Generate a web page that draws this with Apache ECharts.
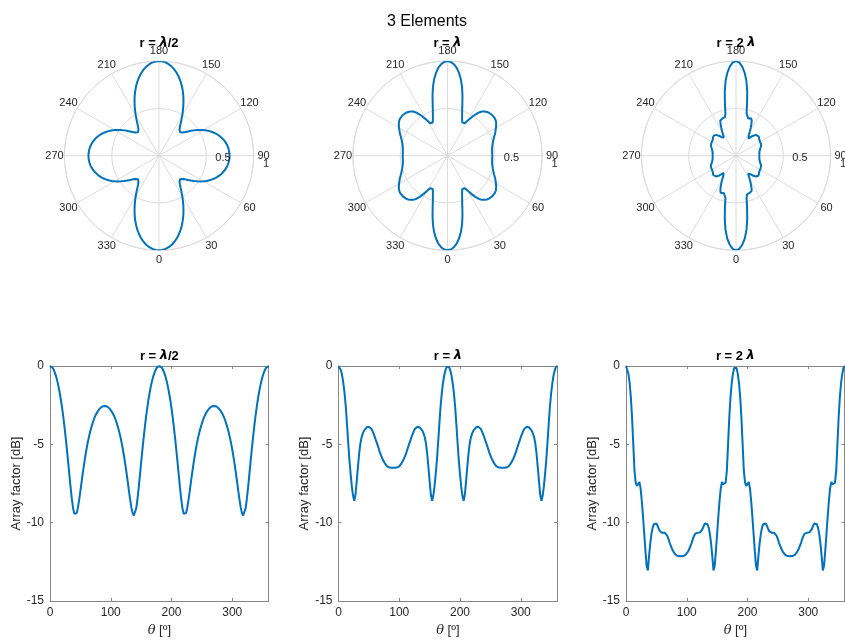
<!DOCTYPE html>
<html>
<head>
<meta charset="utf-8">
<script src="https://cdn.jsdelivr.net/npm/echarts@6/dist/echarts.min.js"></script>
<style>
html,body{margin:0;padding:0;background:#fff;}
#chart{width:845px;height:642px;}
</style>
</head>
<body>
<div id="chart"></div>
<script>
// ---------- data ----------
const THETA = [
  0,2,4,6,8,10,12,14,16,18,20,22,24,26,28,30,32,34,36,38,40,42,44,46,48,50,52,54,56,58,60,62,64,66,68,70,72,74,76,78,80,82,84,86,88,90,
  92,94,96,98,100,102,104,106,108,110,112,114,116,118,120,122,124,126,128,130,132,134,136,138,140,142,144,146,148,150,152,154,156,158,160,162,164,166,168,170,172,174,176,178,180,
  182,184,186,188,190,192,194,196,198,200,202,204,206,208,210,212,214,216,218,220,222,224,226,228,230,232,234,236,238,240,242,244,246,248,250,252,254,256,258,260,262,264,266,268,270,
  272,274,276,278,280,282,284,286,288,290,292,294,296,298,300,302,304,306,308,310,312,314,316,318,320,322,324,326,328,330,332,334,336,338,340,342,344,346,348,350,352,354,356,358,360
];

// Array factor [dB], r = λ/2
const AF_R_HALF = [
  0,-0.03,-0.10,-0.24,-0.42,-0.66,-0.95,-1.30,-1.71,-2.17,-2.70,-3.28,-3.93,-4.63,-5.38,-6.17,-6.98,-7.78,-8.49,-9.07,-9.43,-9.54,-9.39,-9.04,-8.55,-7.99,-7.40,-6.83,-6.29,-5.79,-5.33,-4.91,-4.54,-4.21,-3.92,-3.66,-3.43,-3.23,-3.07,-2.93,-2.81,-2.71,-2.64,-2.59,-2.56,-2.55,
  -2.56,-2.59,-2.64,-2.71,-2.81,-2.93,-3.07,-3.23,-3.43,-3.66,-3.92,-4.21,-4.54,-4.91,-5.33,-5.79,-6.29,-6.83,-7.40,-7.99,-8.55,-9.04,-9.39,-9.54,-9.43,-9.07,-8.49,-7.78,-6.98,-6.17,-5.38,-4.63,-3.93,-3.28,-2.70,-2.17,-1.71,-1.30,-0.95,-0.66,-0.42,-0.24,-0.10,-0.03,0,
  -0.03,-0.10,-0.24,-0.42,-0.66,-0.95,-1.30,-1.71,-2.17,-2.70,-3.28,-3.93,-4.63,-5.38,-6.17,-6.98,-7.78,-8.49,-9.07,-9.43,-9.54,-9.39,-9.04,-8.55,-7.99,-7.40,-6.83,-6.29,-5.79,-5.33,-4.91,-4.54,-4.21,-3.92,-3.66,-3.43,-3.23,-3.07,-2.93,-2.81,-2.71,-2.64,-2.59,-2.56,-2.55,
  -2.56,-2.59,-2.64,-2.71,-2.81,-2.93,-3.07,-3.23,-3.43,-3.66,-3.92,-4.21,-4.54,-4.91,-5.33,-5.79,-6.29,-6.83,-7.40,-7.99,-8.55,-9.04,-9.39,-9.54,-9.43,-9.07,-8.49,-7.78,-6.98,-6.17,-5.38,-4.63,-3.93,-3.28,-2.70,-2.17,-1.71,-1.30,-0.95,-0.66,-0.42,-0.24,-0.10,-0.03,0
];

// Array factor [dB], r = λ
const AF_R_ONE = [
  0,-0.07,-0.27,-0.60,-1.10,-1.75,-2.60,-3.70,-4.90,-6.00,-6.90,-7.70,-8.30,-8.60,-8.20,-7.35,-6.45,-5.60,-4.95,-4.55,-4.30,-4.12,-4.00,-3.93,-3.89,-3.88,-3.92,-4.01,-4.15,-4.35,-4.55,-4.80,-5.00,-5.25,-5.50,-5.70,-5.90,-6.05,-6.20,-6.30,-6.40,-6.45,-6.48,-6.50,-6.50,-6.50,
  -6.50,-6.50,-6.48,-6.45,-6.40,-6.30,-6.20,-6.05,-5.90,-5.70,-5.50,-5.25,-5.00,-4.80,-4.55,-4.35,-4.15,-4.01,-3.92,-3.88,-3.89,-3.93,-4.00,-4.12,-4.30,-4.55,-4.95,-5.60,-6.45,-7.35,-8.20,-8.60,-8.30,-7.70,-6.90,-6.00,-4.90,-3.70,-2.60,-1.75,-1.10,-0.60,-0.27,-0.07,0,
  -0.07,-0.27,-0.60,-1.10,-1.75,-2.60,-3.70,-4.90,-6.00,-6.90,-7.70,-8.30,-8.60,-8.20,-7.35,-6.45,-5.60,-4.95,-4.55,-4.30,-4.12,-4.00,-3.93,-3.89,-3.88,-3.92,-4.01,-4.15,-4.35,-4.55,-4.80,-5.00,-5.25,-5.50,-5.70,-5.90,-6.05,-6.20,-6.30,-6.40,-6.45,-6.48,-6.50,-6.50,-6.50,
  -6.50,-6.50,-6.48,-6.45,-6.40,-6.30,-6.20,-6.05,-5.90,-5.70,-5.50,-5.25,-5.00,-4.80,-4.55,-4.35,-4.15,-4.01,-3.92,-3.88,-3.89,-3.93,-4.00,-4.12,-4.30,-4.55,-4.95,-5.60,-6.45,-7.35,-8.20,-8.60,-8.30,-7.70,-6.90,-6.00,-4.90,-3.70,-2.60,-1.75,-1.10,-0.60,-0.27,-0.07,0
];

// Array factor [dB], r = 2λ
const AF_R_TWO = [
  0,-0.12,-0.50,-1.10,-2.00,-3.30,-5.00,-6.70,-7.45,-7.65,-7.55,-7.40,-7.80,-8.60,-9.60,-10.70,-11.80,-12.75,-13.05,-12.10,-11.30,-10.70,-10.30,-10.10,-10.00,-10.05,-10.20,-10.40,-10.55,-10.62,-10.65,-10.65,-10.65,-10.70,-10.85,-11.05,-11.30,-11.50,-11.70,-11.85,-11.97,-12.05,-12.10,-12.13,-12.15,-12.15,
  -12.15,-12.13,-12.10,-12.05,-11.97,-11.85,-11.70,-11.50,-11.30,-11.05,-10.85,-10.70,-10.65,-10.65,-10.65,-10.62,-10.55,-10.40,-10.20,-10.05,-10.00,-10.10,-10.30,-10.70,-11.30,-12.10,-13.05,-12.75,-11.80,-10.70,-9.60,-8.60,-7.80,-7.40,-7.55,-7.65,-7.45,-6.70,-5.00,-3.30,-2.00,-1.10,-0.50,-0.12,0,
  -0.12,-0.50,-1.10,-2.00,-3.30,-5.00,-6.70,-7.45,-7.65,-7.55,-7.40,-7.80,-8.60,-9.60,-10.70,-11.80,-12.75,-13.05,-12.10,-11.30,-10.70,-10.30,-10.10,-10.00,-10.05,-10.20,-10.40,-10.55,-10.62,-10.65,-10.65,-10.65,-10.70,-10.85,-11.05,-11.30,-11.50,-11.70,-11.85,-11.97,-12.05,-12.10,-12.13,-12.15,-12.15,
  -12.15,-12.13,-12.10,-12.05,-11.97,-11.85,-11.70,-11.50,-11.30,-11.05,-10.85,-10.70,-10.65,-10.65,-10.65,-10.62,-10.55,-10.40,-10.20,-10.05,-10.00,-10.10,-10.30,-10.70,-11.30,-12.10,-13.05,-12.75,-11.80,-10.70,-9.60,-8.60,-7.80,-7.40,-7.55,-7.65,-7.45,-6.70,-5.00,-3.30,-2.00,-1.10,-0.50,-0.12,0
];

const PANEL_TITLES = ['{b|r = }{l|λ}{b|/2}', '{b|r = }{l|λ}', '{b|r = 2 }{l|λ}'];
const MAIN_TITLE = '3 Elements';
const ANGLE_TICKS = [0,30,60,90,120,150,180,210,240,270,300,330];
const R_TICK_LABELS = ['0.5', '1'];
const X_TICKS = [0,100,200,300];
const Y_TICKS = [-15,-10,-5,0];
const Y_NAME = 'Array factor [dB]';
const X_NAME = '{t|θ}{n| [º]}';

// ---------- layout / style ----------
const SANS = '"Liberation Sans", Arial, Helvetica, sans-serif';
const SERIF = '"DejaVu Serif", "Liberation Serif", serif';
const BLUE = '#0072BD';
const TXT = '#262626';
const AXC = '#868686';
const GRIDC = '#dcdcdc';

const POLAR_CX = [159, 447.5, 736];
const POLAR_CY = 155.7;
const POLAR_R = 94.6;
const LABEL_R = 104.5;
const GRID_L = [50, 338.5, 626];
const GRID_W = 218.7;
const GRID_T = 366;
const GRID_H = 235;

const DB = [AF_R_HALF, AF_R_ONE, AF_R_TWO];

const polar = [], angleAxis = [], radiusAxis = [], grid = [], xAxis = [], yAxis = [], series = [], graphic = [];

const titleRich = {
  b: {fontFamily: SANS, fontWeight: 'bold', fontSize: 13, fill: '#000', color: '#000'},
  l: {fontFamily: '"DejaVu Sans", sans-serif', fontStyle: 'italic', fontWeight: 'bold', fontSize: 13, fill: '#000', color: '#000'}
};

function centeredText(x, y, text, extra) {
  return {type: 'text', x: x, y: y, z: 10, silent: true,
    style: Object.assign({text: text, fill: TXT, fontSize: 11, fontFamily: SANS,
      align: 'center', verticalAlign: 'middle', textAlign: 'center', textVerticalAlign: 'middle'}, extra || {})};
}

for (let i = 0; i < 3; i++) {
  polar.push({center: [POLAR_CX[i], POLAR_CY], radius: POLAR_R});
  angleAxis.push({
    polarIndex: i, type: 'value', min: 0, max: 360, interval: 30,
    startAngle: 270, clockwise: false,
    axisLine: {show: true, lineStyle: {color: GRIDC, width: 1}},
    axisTick: {show: false},
    axisLabel: {show: false},
    splitLine: {show: true, lineStyle: {color: GRIDC, width: 1}},
    splitArea: {show: false}
  });
  radiusAxis.push({
    polarIndex: i, type: 'value', min: 0, max: 1, interval: 0.5,
    axisLine: {show: false}, axisTick: {show: false}, axisLabel: {show: false},
    splitLine: {show: true, lineStyle: {color: GRIDC, width: 1}},
    splitArea: {show: false}
  });
  series.push({
    type: 'line', coordinateSystem: 'polar', polarIndex: i,
    data: THETA.map((t, k) => [Math.pow(10, DB[i][k] / 20), t]),
    showSymbol: false, symbol: 'none', clip: false,
    lineStyle: {color: BLUE, width: 2}, itemStyle: {color: BLUE},
    silent: true, animation: false, z: 5
  });

  // angle tick labels, centred just outside the outer ring (0 at bottom, counter-clockwise)
  ANGLE_TICKS.forEach(a => {
    const rad = a * Math.PI / 180;
    graphic.push(centeredText(POLAR_CX[i] + LABEL_R * Math.sin(rad), POLAR_CY + LABEL_R * Math.cos(rad), String(a)));
  });
  // radial tick labels
  graphic.push(centeredText(POLAR_CX[i] + 64, POLAR_CY + 2.5, R_TICK_LABELS[0]));
  graphic.push(centeredText(POLAR_CX[i] + 107, POLAR_CY + 8.5, R_TICK_LABELS[1]));

  grid.push({left: GRID_L[i], top: GRID_T, width: GRID_W, height: GRID_H, containLabel: false, outerBoundsMode: 'none', show: false});
  const common = {
    min: 0, max: 360, interval: 100, type: 'value', gridIndex: i,
    splitLine: {show: false},
    axisLine: {show: true, onZero: false, lineStyle: {color: AXC, width: 1}},
    axisTick: {show: true, inside: true, length: 3, lineStyle: {color: AXC}}
  };
  xAxis[i] = Object.assign({}, common, {
    position: 'bottom',
    axisLabel: {margin: 6, color: TXT, fontSize: 12, fontFamily: SANS,
      formatter: v => (X_TICKS.indexOf(v) >= 0 ? String(v) : '')},
    name: X_NAME, nameLocation: 'middle', nameGap: 23,
    nameTextStyle: {rich: {
      t: {fontFamily: SERIF, fontStyle: 'italic', fontSize: 13, color: TXT},
      n: {fontFamily: SANS, fontSize: 13, color: TXT}
    }}
  });
  xAxis[3 + i] = Object.assign({}, common, {position: 'top', axisLabel: {show: false}});

  const ycommon = {
    min: -15, max: 0, interval: 5, type: 'value', gridIndex: i,
    splitLine: {show: false},
    axisLine: {show: true, onZero: false, lineStyle: {color: AXC, width: 1}},
    axisTick: {show: true, inside: true, length: 3, lineStyle: {color: AXC}}
  };
  yAxis[i] = Object.assign({}, ycommon, {
    position: 'left',
    axisLabel: {margin: 6, color: TXT, fontSize: 12, fontFamily: SANS,
      formatter: v => (Y_TICKS.indexOf(v) >= 0 ? String(v) : '')},
    name: Y_NAME, nameLocation: 'middle', nameGap: 27,
    nameTextStyle: {color: TXT, fontSize: 13, fontFamily: SANS}
  });
  yAxis[3 + i] = Object.assign({}, ycommon, {position: 'right', axisLabel: {show: false}});

  series.push({
    type: 'line', xAxisIndex: i, yAxisIndex: i,
    data: THETA.map((t, k) => [t, DB[i][k]]),
    showSymbol: false, symbol: 'none', clip: false,
    lineStyle: {color: BLUE, width: 2}, itemStyle: {color: BLUE},
    silent: true, animation: false, z: 5
  });

  // titles
  graphic.push({type: 'text', x: POLAR_CX[i], y: 43, z: 11, silent: true,
    style: {text: PANEL_TITLES[i], rich: titleRich, align: 'center', verticalAlign: 'middle', textAlign: 'center', textVerticalAlign: 'middle'}});
  graphic.push({type: 'text', x: GRID_L[i] + GRID_W / 2, y: 356, z: 11, silent: true,
    style: {text: PANEL_TITLES[i], rich: titleRich, align: 'center', verticalAlign: 'middle', textAlign: 'center', textVerticalAlign: 'middle'}});
}

graphic.push(centeredText(427, 21.5, MAIN_TITLE, {fill: '#000', fontSize: 16}));

const chart = echarts.init(document.getElementById('chart'), null, {renderer: 'canvas'});
chart.setOption({
  animation: false,
  backgroundColor: '#ffffff',
  polar, angleAxis, radiusAxis, grid, xAxis, yAxis, series, graphic
});
</script>
</body>
</html>
